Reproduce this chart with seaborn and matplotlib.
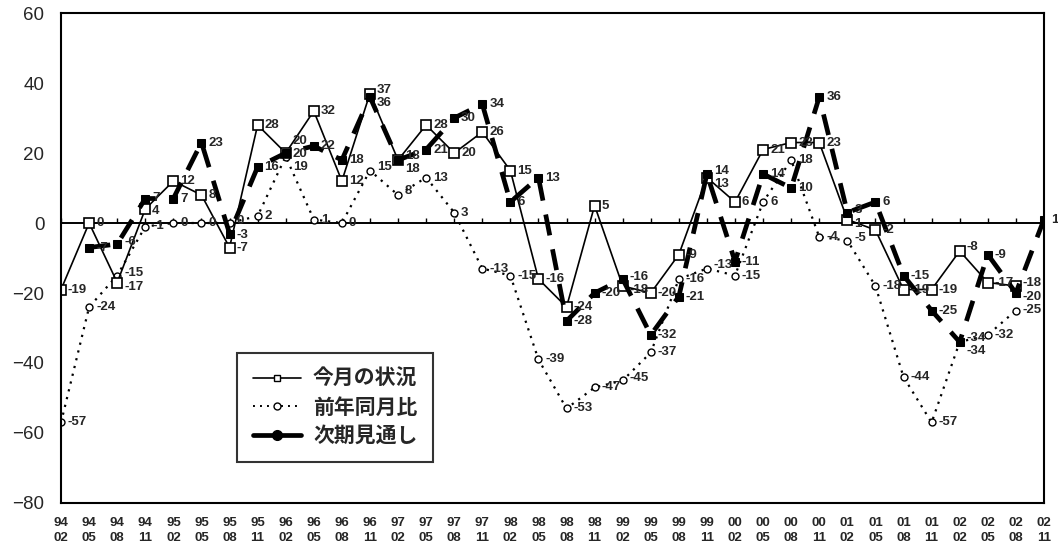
import numpy as np
import pandas as pd
import matplotlib
matplotlib.use("Agg")
import matplotlib.pyplot as plt
import seaborn as sns
from matplotlib.lines import Line2D

# quarters 94/02 .. 02/11
years = ["94", "95", "96", "97", "98", "99", "00", "01", "02"]
months = ["02", "05", "08", "11"]
periods = [f"{y}\n{m}" for y in years for m in months]

nan = np.nan
# 今月の状況
current = [-19, 0, -17, 4, 12, 8, -7, 28, 20, 32, 12, 37, 18, 28, 20, 26, 15, -16,
           -24, 5, -18, -20, -9, 13, 6, 21, 23, 23, 1, -2, -19, -19, -8, -17, -18, nan]
# 前年同月比
yoy = [-57, -24, -15, -1, 0, 0, 0, 2, 19, 1, 0, 15, 8, 13, 3, -13, -15, -39,
       -53, -47, -45, -37, -16, -13, -15, 6, 18, -4, -5, -18, -44, -57, -34, -32, -25, nan]
# 次期見通し
outlook = [nan, -7, -6, 7, 7, 23, -3, 16, 20, 22, 18, 36, 18, 21, 30, 34, 6, 13,
           -28, -20, -16, -32, -21, 14, -11, 14, 10, 36, 3, 6, -15, -25, -34, -9, -20, 1]

names = ["今月の状況", "前年同月比", "次期見通し"]

df = pd.DataFrame({"idx": np.arange(len(periods)), "current": current,
                   "yoy": yoy, "outlook": outlook})

sns.set_style("white")
plt.rcParams["font.family"] = ["Liberation Sans", "Noto Sans CJK JP"]

fig = plt.figure(figsize=(10.58, 5.52), dpi=100)
ax = fig.add_axes([0.0577, 0.0888, 0.929, 0.8876])

# zero line with small ticks
ax.axhline(0, color="black", lw=1.4, zorder=1)
ax.vlines(df["idx"], 0, 1.3, color="black", lw=1.0, zorder=1)

sns.lineplot(data=df, x="idx", y="yoy", ax=ax, color="black", lw=1.6,
             linestyle=(0, (1, 2.6)), marker="o", markersize=5,
             markerfacecolor="white", markeredgecolor="black", markeredgewidth=1.0)
sns.lineplot(data=df, x="idx", y="current", ax=ax, color="black", lw=1.2,
             marker="s", markersize=6.5, markerfacecolor="white",
             markeredgecolor="black", markeredgewidth=1.2)
sns.lineplot(data=df, x="idx", y="outlook", ax=ax, color="black", lw=3.4,
             linestyle=(0, (4.5, 3)), marker="s", markersize=5.5,
             markerfacecolor="black", markeredgecolor="black")

# value labels, nudged apart where points of different series sit close
pt_per_unit = 2.52
for i in df["idx"]:
    pts = [(df.loc[i, c]) for c in ["current", "yoy", "outlook"]]
    pts = sorted([v for v in pts if not np.isnan(v)], reverse=True)
    pos = []
    for v in pts:
        p = v * pt_per_unit
        if pos and p > pos[-1] - 9.5:
            p = pos[-1] - 9.5
        pos.append(p)
    shift = np.mean([v * pt_per_unit for v in pts]) - np.mean(pos) if pos else 0
    for v, p in zip(pts, pos):
        dy = p + shift - v * pt_per_unit
        ax.annotate(f"{int(v)}", (i, v), xytext=(5, dy), textcoords="offset points",
                    va="center", ha="left", fontsize=9.5, fontweight="bold")

ax.set_xlim(0, len(periods) - 1)
ax.set_ylim(-80, 60)
ax.set_yticks(range(-80, 61, 20))
ax.set_xticks(df["idx"])
ax.set_xticklabels(periods, fontsize=9.5, fontweight="bold", linespacing=1.3)
ax.tick_params(axis="x", length=0, pad=10)
ax.tick_params(axis="y", direction="in", length=4, width=1.2, labelsize=13.5, pad=12)
ax.set_xlabel("")
ax.set_ylabel("")
for s in ax.spines.values():
    s.set_color("black")
    s.set_linewidth(1.5)

handles = [
    Line2D([], [], color="black", lw=1.2, marker="s", markersize=5,
           markerfacecolor="white", markeredgecolor="black"),
    Line2D([], [], color="black", lw=1.4, linestyle=(0, (1, 2.6)), marker="o",
           markersize=5, markerfacecolor="white", markeredgecolor="black"),
    Line2D([], [], color="black", lw=3.4, marker="o", markersize=7,
           markerfacecolor="black", markeredgecolor="black"),
]
leg = ax.legend(handles, names, loc="lower left", bbox_to_anchor=(0.179, 0.084),
                borderaxespad=0, frameon=True, fancybox=False, edgecolor="black",
                handlelength=2.3, labelspacing=0.42, borderpad=0.75,
                handletextpad=0.6, prop={"weight": "bold", "size": 15})
leg.get_frame().set_linewidth(1.5)

fig.savefig("out.png", dpi=100, facecolor="white")
